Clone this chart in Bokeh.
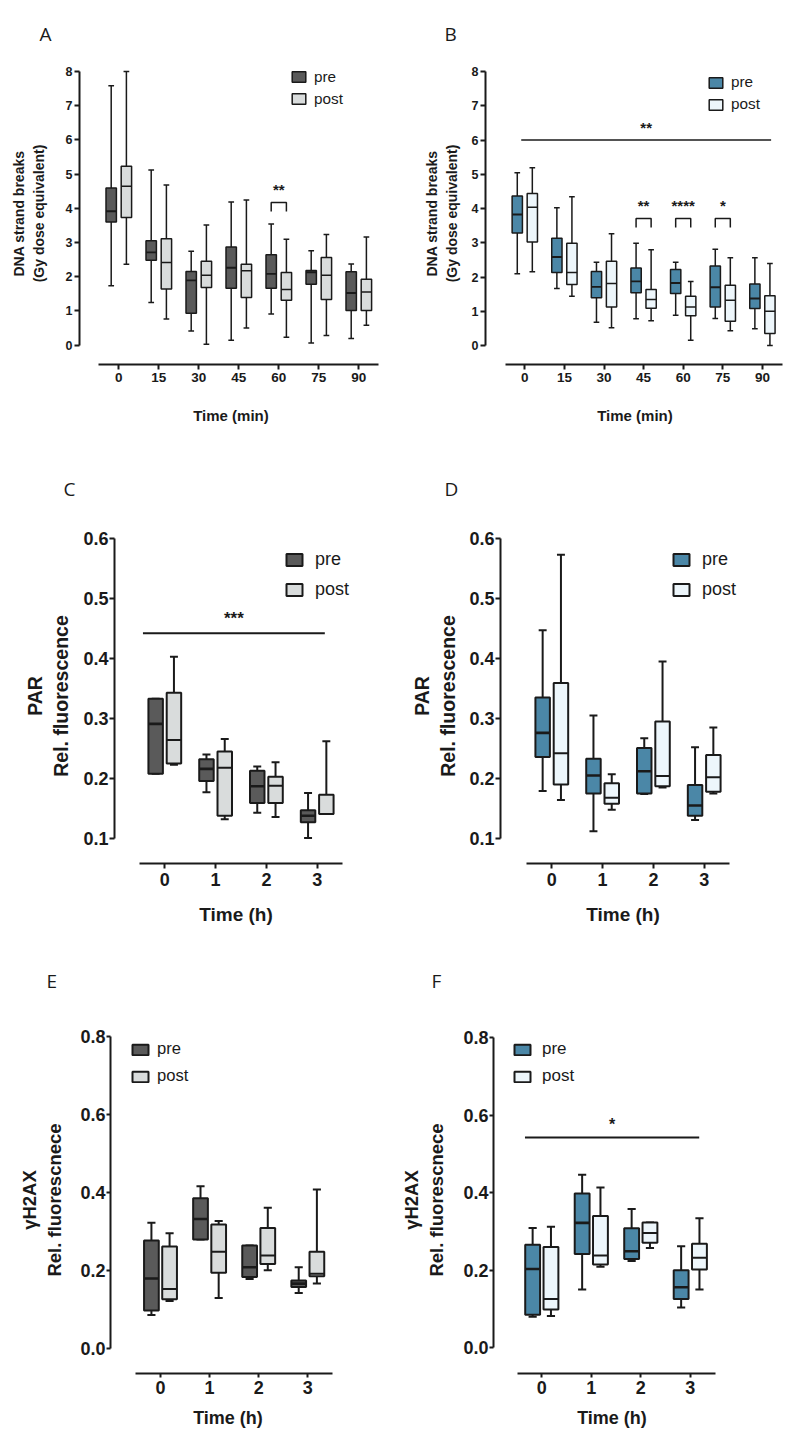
from bokeh.plotting import figure
from bokeh.models import Range1d, FixedTicker, NumeralTickFormatter, Legend, LegendItem, Title
from bokeh.layouts import column, row
from bokeh.embed import file_html
from bokeh.resources import INLINE
from bokeh.core.properties import value

# ---------------- data ----------------
TIME_MIN = ["0", "15", "30", "45", "60", "75", "90"]
TIME_H = ["0", "1", "2", "3"]

# five-number summaries per time point: (min, q1, median, q3, max)
A_PRE = [(1.73, 3.60, 3.91, 4.59, 7.58), (1.24, 2.48, 2.71, 3.05, 5.12), (0.41, 0.93, 1.89, 2.15, 2.74),
         (0.14, 1.66, 2.26, 2.87, 4.18), (0.91, 1.66, 2.08, 2.64, 3.54), (0.06, 1.78, 2.13, 2.18, 2.76),
         (0.19, 1.01, 1.52, 2.14, 2.37)]
A_POST = [(2.36, 3.73, 4.64, 5.23, 8.00), (0.76, 1.64, 2.41, 3.11, 4.68), (0.02, 1.68, 2.04, 2.45, 3.51),
          (0.50, 1.39, 2.17, 2.36, 4.24), (0.23, 1.31, 1.62, 2.12, 3.09), (0.28, 1.33, 2.04, 2.56, 3.23),
          (0.58, 1.01, 1.55, 1.92, 3.16)]
B_PRE = [(2.10, 3.29, 3.83, 4.37, 5.05), (1.67, 2.14, 2.59, 3.14, 4.03), (0.69, 1.40, 1.72, 2.17, 2.44),
         (0.79, 1.55, 1.88, 2.27, 2.99), (0.89, 1.53, 1.83, 2.23, 2.44), (0.80, 1.13, 1.71, 2.33, 2.82),
         (0.50, 1.09, 1.38, 1.80, 2.57)]
B_POST = [(2.16, 3.03, 4.04, 4.44, 5.19), (1.45, 1.79, 2.14, 2.99, 4.35), (0.53, 1.13, 1.82, 2.47, 3.27),
          (0.73, 1.10, 1.35, 1.64, 2.80), (0.16, 0.88, 1.13, 1.45, 1.88), (0.44, 0.72, 1.33, 1.77, 2.57),
          (0.01, 0.36, 1.01, 1.46, 2.40)]
C_PRE = [(0.208, 0.208, 0.291, 0.333, 0.333), (0.177, 0.196, 0.216, 0.232, 0.240),
         (0.143, 0.159, 0.187, 0.213, 0.220), (0.101, 0.127, 0.138, 0.147, 0.176)]
C_POST = [(0.223, 0.225, 0.264, 0.343, 0.403), (0.132, 0.138, 0.218, 0.245, 0.266),
          (0.136, 0.159, 0.188, 0.203, 0.227), (0.141, 0.141, 0.141, 0.173, 0.262)]
D_PRE = [(0.179, 0.236, 0.276, 0.335, 0.447), (0.112, 0.175, 0.205, 0.233, 0.305),
         (0.174, 0.175, 0.212, 0.251, 0.267), (0.131, 0.138, 0.155, 0.189, 0.252)]
D_POST = [(0.164, 0.190, 0.242, 0.359, 0.573), (0.148, 0.158, 0.168, 0.192, 0.207),
          (0.185, 0.187, 0.204, 0.295, 0.395), (0.175, 0.178, 0.202, 0.239, 0.285)]
E_PRE = [(0.085, 0.097, 0.179, 0.277, 0.322), (0.279, 0.279, 0.332, 0.385, 0.416),
         (0.178, 0.183, 0.208, 0.264, 0.264), (0.142, 0.157, 0.166, 0.174, 0.208)]
E_POST = [(0.121, 0.126, 0.152, 0.261, 0.295), (0.129, 0.194, 0.248, 0.318, 0.327),
          (0.200, 0.216, 0.238, 0.309, 0.361), (0.166, 0.185, 0.191, 0.248, 0.408)]
F_PRE = [(0.080, 0.085, 0.203, 0.266, 0.309), (0.150, 0.242, 0.322, 0.398, 0.446),
         (0.224, 0.229, 0.249, 0.308, 0.358), (0.104, 0.126, 0.156, 0.200, 0.262)]
F_POST = [(0.082, 0.099, 0.126, 0.260, 0.312), (0.209, 0.215, 0.238, 0.340, 0.413),
          (0.257, 0.271, 0.296, 0.323, 0.323), (0.150, 0.202, 0.232, 0.268, 0.334)]

# pairwise significance brackets (time index, label, bracket height)
A_SIG_IDX = [4]
A_SIG_TXT = ["**"]
A_SIG_Y = [4.17]
B_SIG_IDX = [3, 4, 5]
B_SIG_TXT = ["**", "****", "*"]
B_SIG_Y = [3.71, 3.71, 3.71]
# overall time-effect lines (label, height)
B_TREND = ("**", 6.0)
C_TREND = ("***", 0.442)
F_TREND = ("*", 0.542)

# ---------------- style ----------------
FONT = "Liberation Sans"
LETTER_FONT = "Open Sans"
INK = "#1a1a1a"
GREY_PRE, GREY_POST = "#5a5a5a", "#d9dcdc"
BLUE_PRE, BLUE_POST = "#4b87a7", "#edf6fb"


def make_panel(spec):
    gx, gy, gw, gh = spec["fig"]
    fl, fr, ft, fb = spec["frame"]
    t0, step = spec["xmap"]
    (v0, p0), (v1, p1) = spec["ymap"]

    def px2x(px):
        return (px - t0) / step

    def py2y(py):
        return v0 + (py - p0) * (v1 - v0) / (p1 - p0)

    upp = (v1 - v0) / (p0 - p1)  # data units per pixel (vertical)

    p = figure(width=gw, height=gh,
               x_range=Range1d(px2x(fl), px2x(fr)), y_range=Range1d(py2y(fb), py2y(ft)),
               output_backend="svg", toolbar_location=None,
               min_border_left=fl - gx, min_border_right=gx + gw - fr,
               min_border_top=ft - gy, min_border_bottom=gy + gh - fb)
    p.outline_line_color = None
    p.grid.visible = False
    p.background_fill_color = "white"

    labels = spec["labels"]
    n = len(labels)
    xa, ya = p.xaxis[0], p.yaxis[0]
    xa.ticker = FixedTicker(ticks=list(range(n)))
    xa.major_label_overrides = {i: lab for i, lab in enumerate(labels)}
    xa.bounds = (-0.5, n - 0.5)
    ya.ticker = FixedTicker(ticks=spec["yticks"])
    ya.formatter = NumeralTickFormatter(format=spec["yfmt"])
    ya.bounds = (spec["yticks"][0], spec["yticks"][-1])
    for ax in (xa, ya):
        ax.axis_line_width = 2
        ax.axis_line_color = INK
        ax.major_tick_line_width = 2
        ax.major_tick_line_color = INK
        ax.major_tick_in = 0
        ax.major_tick_out = spec["tick_out"]
        ax.minor_tick_line_color = None
        ax.major_label_text_font = FONT
        ax.major_label_text_font_style = "bold"
        ax.major_label_text_color = INK
        ax.axis_label_text_font = FONT
        ax.axis_label_text_font_style = "bold"
        ax.axis_label_text_color = INK
    xa.major_label_text_font_size = spec["xtick_fs"]
    ya.major_label_text_font_size = spec["ytick_fs"]
    xa.axis_label = spec["xlabel"]
    ya.axis_label = spec["ylabel"]
    xa.axis_label_text_font_size = spec["xlabel_fs"]
    ya.axis_label_text_font_size = spec["ylabel_fs"]
    xa.major_label_standoff = spec["xstand"][0]
    xa.axis_label_standoff = spec["xstand"][1]
    ya.major_label_standoff = spec["ystand"][0]
    ya.axis_label_standoff = spec["ystand"][1]

    off, bw, lw = spec["offset"], spec["box_w"], spec["lw"]
    cap = bw * 0.55
    renderers = []
    for stats, sgn, color, mlw in ((spec["pre"], -1, spec["colors"][0], lw * 1.3),
                                   (spec["post"], 1, spec["colors"][1], lw)):
        xs = [i + sgn * off for i in range(len(stats))]
        lo = [s[0] for s in stats]
        q1 = [s[1] for s in stats]
        md = [s[2] for s in stats]
        q3 = [s[3] for s in stats]
        hi = [s[4] for s in stats]
        p.segment(xs, lo, xs, hi, line_color=INK, line_width=lw)
        p.segment([x - cap / 2 for x in xs], lo, [x + cap / 2 for x in xs], lo, line_color=INK, line_width=lw)
        p.segment([x - cap / 2 for x in xs], hi, [x + cap / 2 for x in xs], hi, line_color=INK, line_width=lw)
        r = p.quad(left=[x - bw / 2 for x in xs], right=[x + bw / 2 for x in xs], bottom=q1, top=q3,
                   fill_color=color, line_color=INK, line_width=lw)
        p.segment([x - bw / 2 for x in xs], md, [x + bw / 2 for x in xs], md, line_color=INK, line_width=mlw)
        renderers.append(r)

    # significance brackets
    if spec.get("sig"):
        idx, txt, ys = spec["sig"]
        leg = 9 * upp
        for i, t, y in zip(idx, txt, ys):
            xl, xr = i - off, i + off
            p.line([xl, xl, xr, xr], [y - leg, y, y, y - leg], line_color=INK, line_width=lw)
            p.text([i], [y + spec["star_gap"] * upp], text=[t], text_align="center", text_baseline="middle",
                   text_font=value(FONT), text_font_style="bold", text_font_size=spec["star_fs"],
                   text_color=INK)
    if spec.get("trend"):
        (t, y), (xl, xr) = spec["trend"], spec["trend_x"]
        p.line([xl, xr], [y, y], line_color=INK, line_width=lw)
        p.text([(xl + xr) / 2], [y + spec["star_gap"] * upp], text=[t], text_align="center",
               text_baseline="middle", text_font=value(FONT), text_font_style="bold",
               text_font_size=spec["star_fs"], text_color=INK)

    # legend (glyphs are centred in rows of height item_h)
    lg_x, lg_c, pitch, gwid, ghei, lfs, lstand, item_h = spec["legend"]
    top_px = lg_c - item_h / 2
    bottom_px = top_px + item_h + pitch
    legend = Legend(items=[LegendItem(label="pre", renderers=[renderers[0]]),
                           LegendItem(label="post", renderers=[renderers[1]])],
                    location=(lg_x - fl, fb - bottom_px), orientation="vertical",
                    glyph_width=gwid, glyph_height=ghei, label_height=item_h, label_width=10,
                    label_standoff=lstand, spacing=pitch - item_h, padding=0, margin=0,
                    border_line_alpha=0, background_fill_alpha=0,
                    label_text_font=FONT, label_text_font_size=lfs, label_text_color=INK,
                    label_text_baseline="middle")
    p.add_layout(legend)

    # panel letter as a left-aligned title; its standoff lifts it by half its value,
    # limited so that the title box still fits inside the top border
    lx, ly = spec["letter_pos"]
    want = 2 * max((ft - 12) - ly, 0)
    room = (ft - gy) - 2 - 28
    p.add_layout(Title(text=spec["letter"], align="left", offset=lx - 6 - fl,
                       standoff=max(0, min(want, room)),
                       text_font=LETTER_FONT, text_font_size="19px", text_font_style="normal",
                       text_color=INK), "above")
    return p


common_ab = dict(labels=TIME_MIN, yticks=[0, 1, 2, 3, 4, 5, 6, 7, 8], yfmt="0", tick_out=5,
                 xtick_fs="13.5px", ytick_fs="12.5px", xlabel="Time (min)",
                 ylabel="DNA strand breaks\n(Gy dose equivalent)", xlabel_fs="15px", ylabel_fs="14px",
                 xstand=(3, 22), offset=0.19, box_w=0.26, lw=1.5,
                 star_fs="15px", star_gap=13)
common_cd = dict(labels=TIME_H, yticks=[0.1, 0.2, 0.3, 0.4, 0.5, 0.6], yfmt="0.0", tick_out=5,
                 xtick_fs="18px", ytick_fs="18px", xlabel="Time (h)",
                 ylabel="PAR\nRel. fluorescence", xlabel_fs="19px", ylabel_fs="19.5px",
                 xstand=(4, 15), offset=0.18, box_w=0.285, lw=2,
                 star_fs="17px", star_gap=15)
common_ef = dict(labels=TIME_H, yticks=[0.0, 0.2, 0.4, 0.6, 0.8], yfmt="0.0", tick_out=4,
                 xtick_fs="18px", ytick_fs="18px", xlabel="Time (h)",
                 ylabel="\u03b3H2AX\nRel. fluorescnece", xlabel_fs="18px", ylabel_fs="18.5px",
                 xstand=(3, 11), offset=0.185, box_w=0.3, lw=2,
                 star_fs="16px", star_gap=13)

pA = make_panel(dict(common_ab, fig=(0, 0, 397, 444), frame=(79, 382, 62, 364), xmap=(118.3, 40.0),
                     ymap=((0, 344.5), (8, 71)), pre=A_PRE, post=A_POST, colors=(GREY_PRE, GREY_POST),
                     sig=(A_SIG_IDX, A_SIG_TXT, A_SIG_Y), ystand=(2, 16),
                     legend=(290, 76.5, 22, 17, 13, "15.3px", 7, 20), letter="A", letter_pos=(45, 22)))
pB = make_panel(dict(common_ab, fig=(397, 0, 397, 444), frame=(485, 784, 62, 365), xmap=(524.3, 39.6),
                     ymap=((0, 346.3), (8, 71)), pre=B_PRE, post=B_POST, colors=(BLUE_PRE, BLUE_POST),
                     sig=(B_SIG_IDX, B_SIG_TXT, B_SIG_Y), trend=B_TREND, trend_x=(-0.09, 6.22),
                     ystand=(2, 9),
                     legend=(707, 83, 22, 17, 13, "15.3px", 7, 20), letter="B", letter_pos=(450, 20)))
pC = make_panel(dict(common_cd, fig=(0, 444, 397, 486), frame=(114, 357, 528, 863), xmap=(164.3, 50.8),
                     ymap=((0.1, 838), (0.6, 538)), pre=C_PRE, post=C_POST, colors=(GREY_PRE, GREY_POST),
                     trend=C_TREND, trend_x=(-0.43, 3.15), ystand=(1, 8),
                     legend=(284, 559.7, 30, 20, 15, "18px", 11, 24), letter="C", letter_pos=(69, 466)))
pD = make_panel(dict(common_cd, fig=(397, 444, 397, 486), frame=(500, 745, 528, 863), xmap=(551.3, 50.8),
                     ymap=((0.1, 838), (0.6, 538)), pre=D_PRE, post=D_POST, colors=(BLUE_PRE, BLUE_POST),
                     ystand=(1, 7),
                     legend=(671, 559.7, 30, 20, 15, "18px", 11, 24), letter="D", letter_pos=(450, 466)))
pE = make_panel(dict(common_ef, fig=(0, 930, 397, 508), frame=(110, 345, 1026, 1373), xmap=(160.0, 49.1),
                     ymap=((0, 1347.7), (0.8, 1036.3)), pre=E_PRE, post=E_POST, colors=(GREY_PRE, GREY_POST),
                     ystand=(1, 12),
                     legend=(130, 1049, 27, 20, 13, "16.6px", 7, 22), letter="E", letter_pos=(52, 980)))
pF = make_panel(dict(common_ef, fig=(397, 930, 397, 508), frame=(493, 730, 1026, 1373), xmap=(541.3, 49.5),
                     ymap=((0, 1347.3), (0.8, 1037)), pre=F_PRE, post=F_POST, colors=(BLUE_PRE, BLUE_POST),
                     trend=F_TREND, trend_x=(-0.34, 3.18), ystand=(1, 13),
                     legend=(512, 1049, 27, 20, 13, "17px", 10, 22), letter="F", letter_pos=(437, 980)))

layout = column(row(pA, pB), row(pC, pD), row(pE, pF))
open("out.html", "w").write(file_html(layout, INLINE))
